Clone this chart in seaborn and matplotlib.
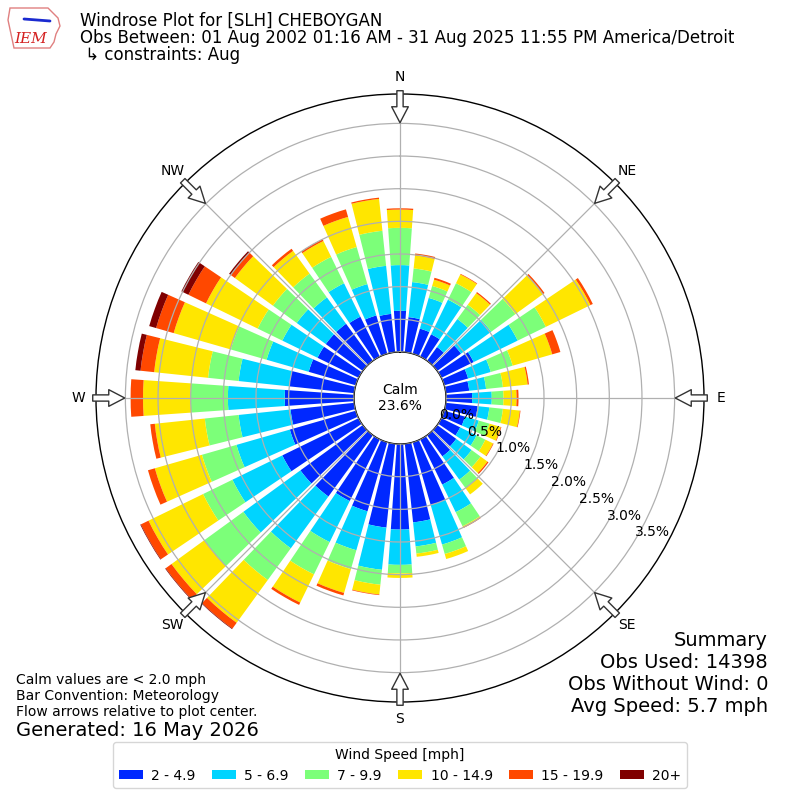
import numpy as np
import matplotlib
matplotlib.use("Agg")
import matplotlib.pyplot as plt
from matplotlib.patches import Polygon
import seaborn as sns

# wind direction bins (degrees, meteorological convention)
directions = np.arange(0, 360, 10)

# frequency (%) per direction for each speed bin
spd_2_5 = [0.63, 0.54, 0.40, 0.38, 0.26, 0.45, 0.55, 0.38, 0.36, 0.40,
           0.49, 0.33, 0.32, 0.36, 0.40, 0.77, 1.00, 1.21, 1.31, 1.29,
           1.10, 1.05, 1.16, 1.18, 1.30, 1.05, 0.98, 1.06, 1.00, 0.75,
           0.70, 0.70, 0.70, 0.68, 0.61, 0.59]
spd_5_7 = [0.70, 0.54, 0.49, 0.59, 0.53, 0.57, 0.75, 0.36, 0.26, 0.30,
           0.18, 0.22, 0.28, 0.29, 0.44, 0.47, 0.63, 0.37, 0.54, 0.65,
           0.62, 0.70, 0.98, 1.08, 0.85, 0.85, 0.80, 0.87, 0.78, 0.67,
           0.60, 0.55, 0.50, 0.57, 0.50, 0.74]
spd_7_10 = [0.57, 0.21, 0.19, 0.28, 0.27, 0.46, 0.48, 0.35, 0.26, 0.18,
            0.21, 0.17, 0.15, 0.17, 0.16, 0.24, 0.15, 0.11, 0.13, 0.23,
            0.30, 0.55, 0.60, 0.74, 0.50, 0.55, 0.52, 0.57, 0.47, 0.57,
            0.42, 0.45, 0.45, 0.45, 0.59, 0.54]
spd_10_15 = [0.28, 0.20, 0.10, 0.15, 0.22, 0.52, 0.76, 0.63, 0.38, 0.20,
             0.26, 0.18, 0.13, 0.13, 0.12, 0.02, 0.08, 0.05, 0.07, 0.15,
             0.38, 0.48, 0.81, 0.62, 0.93, 0.75, 0.77, 0.73, 0.83, 0.91,
             0.88, 0.72, 0.43, 0.27, 0.48, 0.49]
spd_15_20 = [0.02, 0.03, 0.03, 0.01, 0.02, 0.03, 0.04, 0.13, 0.02, 0.03,
             0.01, 0.01, 0.01, 0.02, 0.00, 0.01, 0.00, 0.00, 0.00, 0.01,
             0.04, 0.04, 0.11, 0.11, 0.13, 0.11, 0.07, 0.19, 0.21, 0.28,
             0.30, 0.08, 0.04, 0.03, 0.12, 0.02]
spd_20_up = [0.00, 0.00, 0.00, 0.00, 0.00, 0.00, 0.00, 0.00, 0.00, 0.00,
             0.00, 0.00, 0.00, 0.00, 0.00, 0.00, 0.00, 0.00, 0.00, 0.00,
             0.00, 0.00, 0.01, 0.01, 0.01, 0.00, 0.00, 0.00, 0.08, 0.11,
             0.12, 0.03, 0.00, 0.00, 0.00, 0.00]

speed_labels = ["2 - 4.9", "5 - 6.9", "7 - 9.9", "10 - 14.9", "15 - 19.9", "20+"]
ring_values = [0.0, 0.5, 1.0, 1.5, 2.0, 2.5, 3.0, 3.5]
compass_labels = ["N", "NE", "E", "SE", "S", "SW", "W", "NW"]
calm_pct = 23.6

sns.set_style("white")
plt.rcParams["font.family"] = ["DejaVu Sans"]
plt.rcParams["text.color"] = "black"
plt.rcParams["xtick.color"] = "black"
plt.rcParams["ytick.color"] = "black"
colors = sns.color_palette(["#0028ff", "#00d4ff", "#7cff79", "#ffe600", "#ff4800", "#800000"])

fig = plt.figure(figsize=(8, 8), dpi=100)
ax = fig.add_axes([0.12, 0.1225, 0.76, 0.76], polar=True)
ax.set_theta_zero_location("N")
ax.set_theta_direction(-1)

theta = np.deg2rad(directions)
bottom = np.zeros(len(directions))
for vals, lab, col in zip([spd_2_5, spd_5_7, spd_7_10, spd_10_15, spd_15_20, spd_20_up],
                          speed_labels, colors):
    ax.bar(theta, vals, width=np.deg2rad(8), bottom=bottom, color=col,
           label=lab, edgecolor="none", zorder=1)
    bottom += np.array(vals)

ax.set_ylim(0, 3.95)
ax.set_rorigin(-0.705)
ax.set_axisbelow(False)
ax.set_yticks(ring_values)
ax.set_yticklabels([f"{v:.1f}%" for v in ring_values], fontsize=10)
ax.set_rlabel_position(121)
ax.set_xticks(np.deg2rad(np.arange(0, 360, 45)))
ax.set_xticklabels(compass_labels, fontsize=10)
ax.tick_params(axis="x", pad=2)
ax.grid(True, color="#b0b0b0", lw=0.9)
for sp in ax.spines.values():
    sp.set_color("black")
    sp.set_linewidth(1)

# flow arrows pointing to the plot center
for ang in np.arange(0, 360, 45):
    t = np.deg2rad(ang)
    ax.annotate("", xy=(t, 3.51), xytext=(t, 4.0), annotation_clip=False,
                arrowprops=dict(arrowstyle="simple,head_length=1.15,head_width=1.2,tail_width=0.45",
                                fc="white", ec="#333333", lw=1,
                                shrinkA=0, shrinkB=0, mutation_scale=10))

ax.text(0.5, 0.5, f"Calm\n{calm_pct:.1f}%", transform=ax.transAxes,
        ha="center", va="center", fontsize=10, zorder=5)

# rough IEM logo
outline = np.array([(10, 8), (48, 8), (52, 12), (58, 18), (60, 26), (56, 34),
                    (54, 42), (50, 48), (14, 48), (11, 34), (8, 20)], dtype=float)
fig.add_artist(Polygon(np.column_stack([outline[:, 0] / 800, 1 - outline[:, 1] / 800]),
                       closed=True, fill=False, ec="#e08080", lw=1, transform=fig.transFigure))
fig.add_artist(plt.Line2D([24 / 800, 50 / 800], [1 - 19 / 800, 1 - 21 / 800],
                          color="#1a2ad0", lw=2, transform=fig.transFigure))
fig.text(31 / 800, 1 - 39 / 800, "IEM", color="#d42020", fontsize=11,
         family="DejaVu Serif", style="italic", ha="center", va="center")

# header
fig.text(0.1, 1 - 26 / 800, "Windrose Plot for [SLH] CHEBOYGAN", fontsize=12, va="baseline")
fig.text(0.1, 1 - 43 / 800, "Obs Between: 01 Aug 2002 01:16 AM - 31 Aug 2025 11:55 PM America/Detroit",
         fontsize=12, va="baseline")
fig.text(0.1, 1 - 60 / 800, " \u21b3 constraints: Aug", fontsize=12, va="baseline")

# footer notes
fig.text(0.02, 1 - 680 / 800, "Calm values are < 2.0 mph", fontsize=10, va="center")
fig.text(0.02, 1 - 696 / 800, "Bar Convention: Meteorology", fontsize=10, va="center")
fig.text(0.02, 1 - 712 / 800, "Flow arrows relative to plot center.", fontsize=10, va="center")
fig.text(0.02, 1 - 730 / 800, "Generated: 16 May 2026", fontsize=14, va="center")

summary = ["Summary", "Obs Used: 14398", "Obs Without Wind: 0", "Avg Speed: 5.7 mph"]
for i, line in enumerate(summary):
    fig.text(0.96, 1 - (640 + 22 * i) / 800, line, fontsize=14, ha="right", va="center")

handles, labels = ax.get_legend_handles_labels()
fig.legend(handles, labels, loc="lower center", bbox_to_anchor=(0.5, 0.006), ncol=6,
           title="Wind Speed [mph]", fontsize=10, title_fontsize=10,
           handlelength=1.75, handleheight=0.6, handletextpad=0.6, columnspacing=1.15)

fig.savefig("out.png", dpi=100)
